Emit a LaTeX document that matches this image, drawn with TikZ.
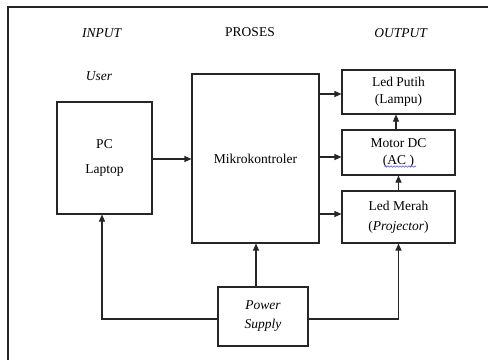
\documentclass[tikz,border=0pt]{standalone}
\usepackage{fontspec}
\setmainfont{Liberation Serif}
\usetikzlibrary{arrows.meta,decorations.pathmorphing}
\begin{document}
\begin{tikzpicture}[x=1pt,y=-1pt,
  font=\fontsize{13.5}{16}\selectfont,
  blk/.style={draw=black!85,line width=1.1pt,rectangle,inner sep=0pt,align=center},
  lbl/.style={inner sep=0pt},
  arr/.style={draw=black!85,line width=1.1pt,-{Triangle[length=7pt,width=6pt]}},
  frame/.style={draw=black!85,line width=1.4pt}]
\useasboundingbox (0,0) rectangle (488,360);
\coordinate (fTL) at (8,7);
\coordinate (fTR) at (488,7);
\coordinate (fBL) at (8,360);
\draw[frame] (fTR) -- (fTL) -- (fBL);

\node[lbl] (tin) at (102,33) {\textit{INPUT}};
\node[lbl] (tpr) at (250,32) {PROSES};
\node[lbl] (tout) at (401,33) {\textit{OUTPUT}};
\node[lbl] (tuser) at (99,76) {\textit{User}};

\node[blk,minimum width=95pt,minimum height=112pt] (PC) at (104.5,158) {PC\\[9pt]Laptop};
\node[blk,minimum width=127pt,minimum height=169pt] (MK) at (255.5,158.5) {Mikrokontroler};
\node[blk,minimum width=113pt,minimum height=44pt] (LP) at (398.5,92) {Led Putih\\[1pt](Lampu)};
\node[blk,minimum width=113pt,minimum height=45pt] (MD) at (398.5,152.5) {Motor DC\\[1pt](AC )};
\node[blk,minimum width=113pt,minimum height=52pt] (LM) at (398.5,217) {Led Merah\\[4pt](\textit{Projector})};
\node[blk,minimum width=90pt,minimum height=59pt] (PS) at (263,316.5) {\textit{Power}\\[3pt]\textit{Supply}};

\coordinate (sqA) at (384,166.5);
\coordinate (sqB) at (416,166.5);
\draw[blue!70,line width=0.5pt,decorate,decoration={snake,amplitude=0.8pt,segment length=3pt}] (sqA) -- (sqB);

\draw[arr] (PC.east |- 0,159) -- (MK.west |- 0,159);
\draw[arr] (MK.east |- 0,94) -- (LP.west |- 0,94);
\draw[arr] (MK.east |- 0,157) -- (MD.west |- 0,157);
\draw[arr] (MK.east |- 0,214) -- (LM.west |- 0,214);
\draw[arr] ([xshift=-2.5pt]MD.north) -- ([xshift=-2.5pt]LP.south);
\draw[arr] (LM.north) -- (MD.south);
\draw[arr] ([xshift=-7pt]PS.north) -- ([xshift=-7pt]PS.north |- MK.south);
\draw[arr] (PS.east |- 0,319) -| (LM.south);
\draw[arr] (PS.west |- 0,319) -| ([xshift=-2.5pt]PC.south);
\end{tikzpicture}
\end{document}
